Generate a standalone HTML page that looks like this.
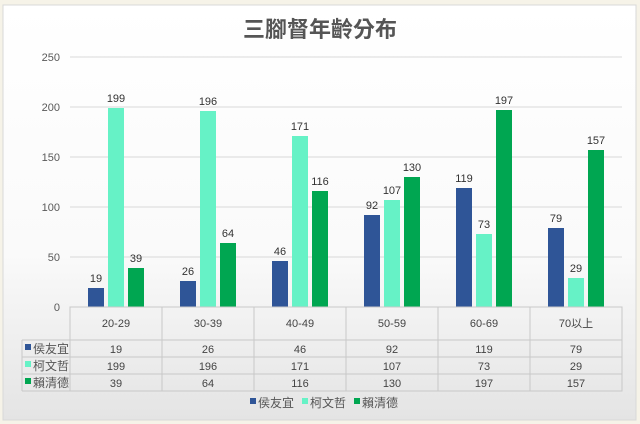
<!DOCTYPE html><html><head><meta charset="utf-8"><style>
body{margin:0;background:#f6f3e8;}
svg{display:block}
</style></head><body>
<svg width="640" height="424" xmlns="http://www.w3.org/2000/svg" font-family="Liberation Sans, Noto Sans CJK TC, sans-serif">
<defs><linearGradient id="bg" x1="0" y1="0" x2="0" y2="1"><stop offset="0" stop-color="#ffffff"/><stop offset="0.6" stop-color="#fafafa"/><stop offset="1" stop-color="#e4e4e4"/></linearGradient></defs>
<rect x="0" y="0" width="640" height="424" fill="#f6f3e8"/>
<rect x="3" y="5" width="633" height="415" fill="url(#bg)" stroke="#d8d8d8"/>
<text x="320" y="37" text-anchor="middle" font-size="22" font-weight="bold" fill="#555" font-family="Noto Sans CJK TC, sans-serif">三腳督年齡分布</text>
<g font-size="11" fill="#595959" text-anchor="end">
<text x="60" y="61">250</text><text x="60" y="111">200</text><text x="60" y="161">150</text><text x="60" y="211">100</text><text x="60" y="261">50</text><text x="60" y="311">0</text></g>
<g stroke="#d9d9d9"><line x1="70" y1="57" x2="622" y2="57"/><line x1="70" y1="107" x2="622" y2="107"/><line x1="70" y1="157" x2="622" y2="157"/><line x1="70" y1="207" x2="622" y2="207"/><line x1="70" y1="257" x2="622" y2="257"/></g>
<g>
<rect x="88" y="288" width="16" height="19" fill="#2f5597"/><rect x="108" y="108" width="16" height="199" fill="#66f2c6"/><rect x="128" y="268" width="16" height="39" fill="#00a651"/>
<rect x="180" y="281" width="16" height="26" fill="#2f5597"/><rect x="200" y="111" width="16" height="196" fill="#66f2c6"/><rect x="220" y="243" width="16" height="64" fill="#00a651"/>
<rect x="272" y="261" width="16" height="46" fill="#2f5597"/><rect x="292" y="136" width="16" height="171" fill="#66f2c6"/><rect x="312" y="191" width="16" height="116" fill="#00a651"/>
<rect x="364" y="215" width="16" height="92" fill="#2f5597"/><rect x="384" y="200" width="16" height="107" fill="#66f2c6"/><rect x="404" y="177" width="16" height="130" fill="#00a651"/>
<rect x="456" y="188" width="16" height="119" fill="#2f5597"/><rect x="476" y="234" width="16" height="73" fill="#66f2c6"/><rect x="496" y="110" width="16" height="197" fill="#00a651"/>
<rect x="548" y="228" width="16" height="79" fill="#2f5597"/><rect x="568" y="278" width="16" height="29" fill="#66f2c6"/><rect x="588" y="150" width="16" height="157" fill="#00a651"/>
</g>
<g font-size="11" fill="#333" text-anchor="middle">
<text x="96" y="282">19</text><text x="116" y="102">199</text><text x="136" y="262">39</text>
<text x="188" y="275">26</text><text x="208" y="105">196</text><text x="228" y="237">64</text>
<text x="280" y="255">46</text><text x="300" y="130">171</text><text x="320" y="185">116</text>
<text x="372" y="209">92</text><text x="392" y="194">107</text><text x="412" y="171">130</text>
<text x="464" y="182">119</text><text x="484" y="228">73</text><text x="504" y="104">197</text>
<text x="556" y="222">79</text><text x="576" y="272">29</text><text x="596" y="144">157</text>
</g>
<g stroke="#c8c8c8" fill="none">
<rect x="70" y="307" width="552" height="84"/>
<line x1="22" y1="340" x2="622" y2="340"/><line x1="22" y1="357" x2="622" y2="357"/><line x1="22" y1="374" x2="622" y2="374"/><line x1="22" y1="391" x2="70" y2="391"/><line x1="22" y1="340" x2="22" y2="391"/>
<line x1="162" y1="307" x2="162" y2="391"/><line x1="254" y1="307" x2="254" y2="391"/><line x1="346" y1="307" x2="346" y2="391"/><line x1="438" y1="307" x2="438" y2="391"/><line x1="530" y1="307" x2="530" y2="391"/>
</g>
<g font-size="11" fill="#444" text-anchor="middle">
<text x="116" y="327">20-29</text><text x="208" y="327">30-39</text><text x="300" y="327">40-49</text><text x="392" y="327">50-59</text><text x="484" y="327">60-69</text><text x="576" y="327">70以上</text>
<text x="116" y="353">19</text><text x="208" y="353">26</text><text x="300" y="353">46</text><text x="392" y="353">92</text><text x="484" y="353">119</text><text x="576" y="353">79</text>
<text x="116" y="370">199</text><text x="208" y="370">196</text><text x="300" y="370">171</text><text x="392" y="370">107</text><text x="484" y="370">73</text><text x="576" y="370">29</text>
<text x="116" y="387">39</text><text x="208" y="387">64</text><text x="300" y="387">116</text><text x="392" y="387">130</text><text x="484" y="387">197</text><text x="576" y="387">157</text>
</g>
<g font-size="12" fill="#555" font-family="Noto Sans CJK TC, sans-serif">
<rect x="25" y="344" width="6" height="6" fill="#2f5597"/><text x="33" y="353">侯友宜</text>
<rect x="25" y="361" width="6" height="6" fill="#66f2c6"/><text x="33" y="370">柯文哲</text>
<rect x="25" y="378" width="6" height="6" fill="#00a651"/><text x="33" y="387">賴清德</text>
<rect x="250" y="398" width="6" height="6" fill="#2f5597"/><text x="258" y="407">侯友宜</text>
<rect x="302" y="398" width="6" height="6" fill="#66f2c6"/><text x="310" y="407">柯文哲</text>
<rect x="354" y="398" width="6" height="6" fill="#00a651"/><text x="362" y="407">賴清德</text>
</g>
</svg>
</body></html>
